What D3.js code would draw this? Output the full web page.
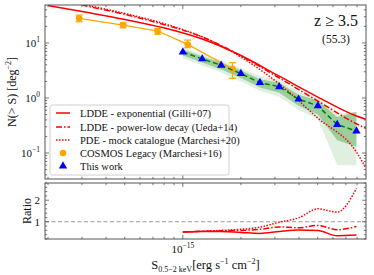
<!DOCTYPE html>
<html>
<head>
<meta charset="utf-8">
<script src="https://cdn.jsdelivr.net/npm/d3@7"></script>
<style>
  html, body { margin: 0; padding: 0; background: #fff; }
  svg { display: block; font-family: "Liberation Serif", "DejaVu Serif", serif; }
</style>
</head>
<body>
<svg id="canvas" width="374" height="275"></svg>
<script>
"use strict";

// === Data: this work (number counts + confidence bands) ===
let workS = [1.0e-15, 1.26e-15, 1.58e-15, 2.0e-15, 2.51e-15, 3.16e-15, 3.98e-15, 5.01e-15, 6.31e-15, 7.94e-15];
let workN = [6.86, 5.12, 3.93, 2.77, 1.90, 1.60, 0.95, 0.72, 0.33, 0.25];
let band1Lo = [5.9, 4.4, 3.3, 2.3, 1.55, 1.25, 0.72, 0.50, 0.17, 0.13];
let band1Hi = [7.6, 5.7, 4.4, 3.2, 2.2, 1.9, 1.15, 0.90, 0.45, 0.56];
let band2Lo = [5.2, 3.9, 2.9, 2.0, 1.35, 1.05, 0.60, 0.42, 0.06, 0.06];
let band2Hi = [8.3, 6.3, 4.9, 3.5, 2.5, 2.15, 1.30, 1.0, 0.52, 0.56];

// === Data: COSMOS Legacy ===
let cosmosS = [2.9e-16, 4.9e-16, 7.4e-16, 1.06e-15, 1.81e-15];
let cosmosN = [28.1, 21.2, 16.5, 9.4, 3.37];
let cosmosLo = [24.3, 18.9, 14.4, 8.2, 2.28];
let cosmosHi = [32.2, 23.3, 18.2, 11.3, 4.38];

// === Data: model curves ===
let modelS = [2.0e-16, 3.16e-16, 5.01e-16, 7.94e-16, 1.26e-15, 2.0e-15, 3.16e-15, 5.01e-15, 7.94e-15, 8.9e-15];
let lddeExp = [48.1, 36.1, 26.7, 18.9, 11.8, 5.93, 2.49, 1.04, 0.47, 0.41];
let lddePow = [68.5, 47.1, 33.0, 21.7, 12.9, 5.81, 2.31, 0.88, 0.34, 0.28];
let pdeMock = [71.6, 49.1, 34.4, 22.6, 12.9, 5.56, 1.80, 0.43, 0.104, 0.053];

// === Data: ratio panel ===
let ratioExp = [0.52, 0.55, 0.55, 0.50, 0.46, 0.55, 0.62, 0.60, 0.35, 0.38];
let ratioPow = [0.52, 0.56, 0.58, 0.60, 0.65, 0.76, 0.72, 0.83, 0.63, 0.78];
let ratioPde = [0.52, 0.56, 0.60, 0.65, 0.75, 0.98, 1.18, 1.60, 1.45, 2.55];

// === Legend labels ===
let legendLabels = [
  "LDDE - exponential (Gilli+07)",
  "LDDE - power-low decay (Ueda+14)",
  "PDE - mock catalogue (Marchesi+20)",
  "COSMOS Legacy (Marchesi+16)",
  "This work"
];

let svg = d3.select("#canvas");
let spine = "#555";

// === Layout ===
let left = 45, right = 366;
let mainTop = 5, mainBot = 179;
let ratTop = 183, ratBot = 239;

let x = d3.scaleLog().domain([1.93e-16, 8.9e-15]).range([left, right]);
let y = d3.scaleLog().domain([0.0337, 49]).range([mainBot, mainTop]);
let yr = d3.scaleLinear().domain([0.2, 2.8]).range([ratBot, ratTop]);

// clip paths for each panel
let defs = svg.append("defs");
defs.append("clipPath").attr("id", "clipMain").append("rect")
  .attr("x", left).attr("y", mainTop).attr("width", right - left).attr("height", mainBot - mainTop);
defs.append("clipPath").attr("id", "clipRat").append("rect")
  .attr("x", left).attr("y", ratTop).attr("width", right - left).attr("height", ratBot - ratTop);

let main = svg.append("g").attr("clip-path", "url(#clipMain)");

// === Bands ===
let idx = d3.range(workS.length);
let bandArea = (lo, hi) => d3.area()
  .x(i => x(workS[i]))
  .y0(i => y(lo[i]))
  .y1(i => y(hi[i]));

main.append("path").attr("d", bandArea(band2Lo, band2Hi)(idx))
  .attr("fill", "green").attr("fill-opacity", 0.12);
main.append("path").attr("d", bandArea(band1Lo, band1Hi)(idx))
  .attr("fill", "green").attr("fill-opacity", 0.3);

// === Model curves ===
let modelLine = vals => d3.line()
  .x((d, i) => x(modelS[i]))
  .y(d => y(d))
  .curve(d3.curveMonotoneX)(vals);

main.append("path").attr("d", modelLine(lddeExp))
  .attr("fill", "none").attr("stroke", "red").attr("stroke-width", 1.5);
main.append("path").attr("d", modelLine(lddePow))
  .attr("fill", "none").attr("stroke", "red").attr("stroke-width", 1.5)
  .attr("stroke-dasharray", "6,2,1.5,2");
main.append("path").attr("d", modelLine(pdeMock))
  .attr("fill", "none").attr("stroke", "red").attr("stroke-width", 1.5)
  .attr("stroke-dasharray", "1.5,1.5");

// === COSMOS Legacy ===
let orange = "orange";
main.append("path")
  .attr("d", d3.line().x((d, i) => x(cosmosS[i])).y(d => y(d))(cosmosN))
  .attr("fill", "none").attr("stroke", orange).attr("stroke-width", 1.3);

cosmosS.forEach((s, i) => {
  let cx = x(s);
  main.append("line").attr("x1", cx).attr("x2", cx)
    .attr("y1", y(cosmosLo[i])).attr("y2", y(cosmosHi[i]))
    .attr("stroke", orange).attr("stroke-width", 1.2);
  [cosmosLo[i], cosmosHi[i]].forEach(v => {
    main.append("line").attr("x1", cx - 3.5).attr("x2", cx + 3.5)
      .attr("y1", y(v)).attr("y2", y(v))
      .attr("stroke", orange).attr("stroke-width", 1.2);
  });
  main.append("circle").attr("cx", cx).attr("cy", y(cosmosN[i])).attr("r", 3.3)
    .attr("fill", orange);
});

// === This work ===
main.append("path")
  .attr("d", d3.line().x((d, i) => x(workS[i])).y(d => y(d))(workN))
  .attr("fill", "none").attr("stroke", "green").attr("stroke-width", 1.5)
  .attr("stroke-dasharray", "5,3");

let tri = d3.symbol().type(d3.symbolTriangle).size(30);
workS.forEach((s, i) => {
  main.append("path").attr("d", tri())
    .attr("transform", `translate(${x(s)},${y(workN[i])})`)
    .attr("fill", "blue");
});

// === Ratio panel ===
let rat = svg.append("g").attr("clip-path", "url(#clipRat)");
rat.append("line").attr("x1", left).attr("x2", right)
  .attr("y1", yr(1)).attr("y2", yr(1))
  .attr("stroke", "#999").attr("stroke-width", 1.2).attr("stroke-dasharray", "4,2.5");

let ratioLine = vals => d3.line()
  .x((d, i) => x(workS[i]))
  .y(d => yr(d))
  .curve(d3.curveMonotoneX)(vals);

rat.append("path").attr("d", ratioLine(ratioExp))
  .attr("fill", "none").attr("stroke", "red").attr("stroke-width", 1.5);
rat.append("path").attr("d", ratioLine(ratioPow))
  .attr("fill", "none").attr("stroke", "red").attr("stroke-width", 1.5)
  .attr("stroke-dasharray", "6,2,1.5,2");
rat.append("path").attr("d", ratioLine(ratioPde))
  .attr("fill", "none").attr("stroke", "red").attr("stroke-width", 1.5)
  .attr("stroke-dasharray", "1.5,1.5");

// === Axes frames ===
function frame(top, bot) {
  svg.append("rect").attr("x", left).attr("y", top)
    .attr("width", right - left).attr("height", bot - top)
    .attr("fill", "none").attr("stroke", spine).attr("stroke-width", 1);
}
frame(mainTop, mainBot);
frame(ratTop, ratBot);

// === Ticks (inward) ===
function xTicks(top, bot) {
  let minors = [];
  [-16, -15].forEach(e => d3.range(1, 10).forEach(m => minors.push(m * Math.pow(10, e))));
  minors.filter(v => x(v) >= left && x(v) <= right).forEach(v => {
    let major = Math.abs(Math.log10(v) - Math.round(Math.log10(v))) < 1e-6;
    let len = major ? 4 : 2.2;
    svg.append("line").attr("x1", x(v)).attr("x2", x(v)).attr("y1", bot).attr("y2", bot - len)
      .attr("stroke", spine).attr("stroke-width", 0.8);
    svg.append("line").attr("x1", x(v)).attr("x2", x(v)).attr("y1", top).attr("y2", top + len)
      .attr("stroke", spine).attr("stroke-width", 0.8);
  });
}
xTicks(mainTop, mainBot);
xTicks(ratTop, ratBot);

// y ticks main (log)
let yMinor = [];
[-2, -1, 0, 1].forEach(e => d3.range(1, 10).forEach(m => yMinor.push(m * Math.pow(10, e))));
yMinor.filter(v => y(v) >= mainTop && y(v) <= mainBot).forEach(v => {
  let major = Math.abs(Math.log10(v) - Math.round(Math.log10(v))) < 1e-6;
  let len = major ? 4 : 2.2;
  svg.append("line").attr("x1", left).attr("x2", left + len).attr("y1", y(v)).attr("y2", y(v))
    .attr("stroke", spine).attr("stroke-width", 0.8);
  svg.append("line").attr("x1", right).attr("x2", right - len).attr("y1", y(v)).attr("y2", y(v))
    .attr("stroke", spine).attr("stroke-width", 0.8);
});

let yMajor = [10, 1, 0.1];
let yExp = ["1", "0", "\u22121"];
yMajor.forEach((v, i) => {
  let t = svg.append("text").attr("x", 40).attr("y", y(v) + 4)
    .attr("text-anchor", "end").attr("font-size", 11).attr("fill", "#111");
  t.append("tspan").text("10");
  t.append("tspan").attr("dy", -5).attr("font-size", 7.5).text(yExp[i]);
});

// y ticks ratio
d3.range(0.2, 2.81, 0.2).forEach(v => {
  let major = Math.abs(v - Math.round(v)) < 1e-6;
  let len = major ? 4 : 2.2;
  svg.append("line").attr("x1", left).attr("x2", left + len).attr("y1", yr(v)).attr("y2", yr(v))
    .attr("stroke", spine).attr("stroke-width", 0.8);
  svg.append("line").attr("x1", right).attr("x2", right - len).attr("y1", yr(v)).attr("y2", yr(v))
    .attr("stroke", spine).attr("stroke-width", 0.8);
});
let ratioTicks = [1, 2];
ratioTicks.forEach(v => {
  svg.append("text").attr("x", 40).attr("y", yr(v) + 4)
    .attr("text-anchor", "end").attr("font-size", 11).attr("fill", "#111").text(v);
});

// x tick label
let xl = svg.append("text").attr("x", x(1e-15)).attr("y", 253)
  .attr("text-anchor", "middle").attr("font-size", 11).attr("fill", "#111");
xl.append("tspan").text("10");
xl.append("tspan").attr("dy", -5).attr("font-size", 7.5).text("\u221215");

// === Axis labels ===
let xlab = svg.append("text").attr("x", (left + right) / 2).attr("y", 269)
  .attr("text-anchor", "middle").attr("font-size", 12.5).attr("fill", "#111");
xlab.append("tspan").text("S");
xlab.append("tspan").attr("dy", 3).attr("font-size", 8).text("0.5\u22122 keV");
xlab.append("tspan").attr("dy", -3).text("[erg s");
xlab.append("tspan").attr("dy", -5).attr("font-size", 8).text("\u22121");
xlab.append("tspan").attr("dy", 5).text(" cm");
xlab.append("tspan").attr("dy", -5).attr("font-size", 8).text("\u22122");
xlab.append("tspan").attr("dy", 5).text("]");

let ylab = svg.append("text")
  .attr("transform", `translate(16,${(mainTop + mainBot) / 2}) rotate(-90)`)
  .attr("text-anchor", "middle").attr("font-size", 12).attr("fill", "#111");
ylab.append("tspan").text("N(> S) [deg");
ylab.append("tspan").attr("dy", -5).attr("font-size", 8).text("\u22122");
ylab.append("tspan").attr("dy", 5).text("]");

svg.append("text")
  .attr("transform", `translate(31,${(ratTop + ratBot) / 2}) rotate(-90)`)
  .attr("text-anchor", "middle").attr("font-size", 12).attr("fill", "#111").text("Ratio");

// === Redshift annotation ===
svg.append("text").attr("x", 336).attr("y", 26).attr("text-anchor", "middle")
  .attr("font-size", 16).attr("fill", "#111").text("z \u2265 3.5");
svg.append("text").attr("x", 336).attr("y", 43).attr("text-anchor", "middle")
  .attr("font-size", 11.5).attr("fill", "#111").text("(55.3)");

// === Legend ===
let lg = svg.append("g");
lg.append("rect").attr("x", 50).attr("y", 105).attr("width", 179).attr("height", 70)
  .attr("rx", 2.5).attr("fill", "white").attr("fill-opacity", 0.85)
  .attr("stroke", "#d0d0d0").attr("stroke-width", 1);

let rowY = [113, 127, 140, 153, 166];
let dashes = [null, "6,2,1.5,2", "1.5,1.5"];
rowY.forEach((ry, i) => {
  if (i < 3) {
    let ln = lg.append("line").attr("x1", 56).attr("x2", 70).attr("y1", ry).attr("y2", ry)
      .attr("stroke", "red").attr("stroke-width", 1.5);
    if (dashes[i]) ln.attr("stroke-dasharray", dashes[i]);
  } else if (i === 3) {
    lg.append("circle").attr("cx", 63).attr("cy", ry).attr("r", 3.3).attr("fill", orange);
  } else {
    lg.append("path").attr("d", tri()).attr("transform", `translate(63,${ry})`).attr("fill", "blue");
  }
  lg.append("text").attr("x", 80).attr("y", ry + 4).attr("font-size", 10.5)
    .attr("fill", "#111").text(legendLabels[i]);
});
</script>
</body>
</html>
